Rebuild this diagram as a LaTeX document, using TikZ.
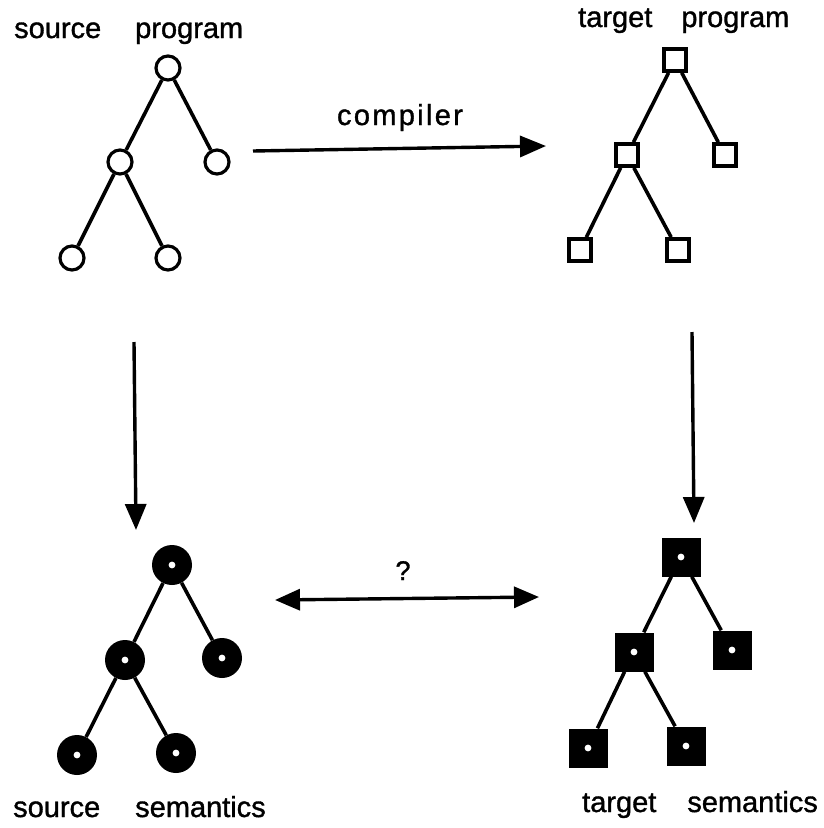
\documentclass[tikz,border=0pt]{standalone}
\usepackage{fontspec}
\setmainfont{Liberation Sans}[FakeBold=1.2]
\usetikzlibrary{arrows.meta}
\begin{document}
\begin{tikzpicture}[x=1pt,y=-1pt,
  lbl/.style={anchor=base west, inner sep=0pt, font=\fontsize{29}{34}\selectfont},
  ocirc/.style={circle, draw, line width=3.2pt, minimum size=24pt, inner sep=0pt},
  osq/.style={rectangle, draw, line width=3.6pt, minimum size=22pt, inner sep=0pt},
  whitedot/.style={path picture={\fill[white] (path picture bounding box.center) circle (3.4pt);}},
  fcirc/.style={circle, fill=black, minimum size=40pt, inner sep=0pt, whitedot},
  fsq/.style={rectangle, fill=black, minimum size=39pt, inner sep=0pt, whitedot},
  treeline/.style={line width=3.6pt},
  arr/.style={line width=3.4pt, -{Triangle[length=26pt,width=21pt]}},
  dblarr/.style={line width=3.4pt, {Triangle[length=25pt,width=21pt]}-{Triangle[length=25pt,width=21pt]}},
]
\useasboundingbox (0,0) rectangle (823,828);

% labels
\node[lbl] (lsp) at (14,38) {source\hspace{34pt}program};
\node[lbl] (ltp) at (578,27) {target\hspace{29pt}program};
\node[lbl] (lss) at (13,817) {source\hspace{35pt}semantics};
\node[lbl] (lts) at (582,812) {target\hspace{31pt}semantics};
\node[anchor=base, inner sep=0pt, font=\fontsize{29}{34}\selectfont\addfontfeature{LetterSpace=8}] (lc) at (400,125) {compiler};
\node[anchor=base, inner sep=0pt, font=\fontsize{27}{32}\selectfont] (lq) at (403,580) {?};

% source program tree
\node[ocirc] (s1) at (168,68) {};
\node[ocirc] (s2) at (120,162) {};
\node[ocirc] (s3) at (217,162) {};
\node[ocirc] (s4) at (72,258) {};
\node[ocirc] (s5) at (168,258) {};
\draw[treeline] (s1) -- (s2) (s1) -- (s3) (s2) -- (s4) (s2) -- (s5);

% target program tree
\node[osq] (t1) at (675,60) {};
\node[osq] (t2) at (627,155) {};
\node[osq] (t3) at (725,155) {};
\node[osq] (t4) at (580,250) {};
\node[osq] (t5) at (678,250) {};
\draw[treeline] (t1) -- (t2) (t1) -- (t3) (t2) -- (t4) (t2) -- (t5);

% source semantics tree
\node[fcirc] (a1) at (172,565) {};
\node[fcirc] (a2) at (125,660) {};
\node[fcirc] (a3) at (222,658) {};
\node[fcirc] (a4) at (77,755) {};
\node[fcirc] (a5) at (176,753) {};
\draw[treeline] (a1) -- (a2) (a1) -- (a3) (a2) -- (a4) (a2) -- (a5);

% target semantics tree
\node[fsq] (b1) at (681,557) {};
\node[fsq] (b2) at (634,652) {};
\node[fsq] (b3) at (732,650) {};
\node[fsq] (b4) at (588,748) {};
\node[fsq] (b5) at (686,746) {};
\draw[treeline] (b1) -- (b2) (b1) -- (b3) (b2) -- (b4) (b2) -- (b5);

% arrows
\coordinate (c1) at (253,151);
\coordinate (c2) at (546,146);
\draw[arr] (c1) -- (c2);
\coordinate (v1) at (134,342);
\coordinate (v2) at (136,530);
\draw[arr] (v1) -- (v2);
\coordinate (w1) at (692,332);
\coordinate (w2) at (694,523);
\draw[arr] (w1) -- (w2);
\coordinate (q1) at (275,600);
\coordinate (q2) at (539,597);
\draw[dblarr] (q1) -- (q2);
\end{tikzpicture}
\end{document}
